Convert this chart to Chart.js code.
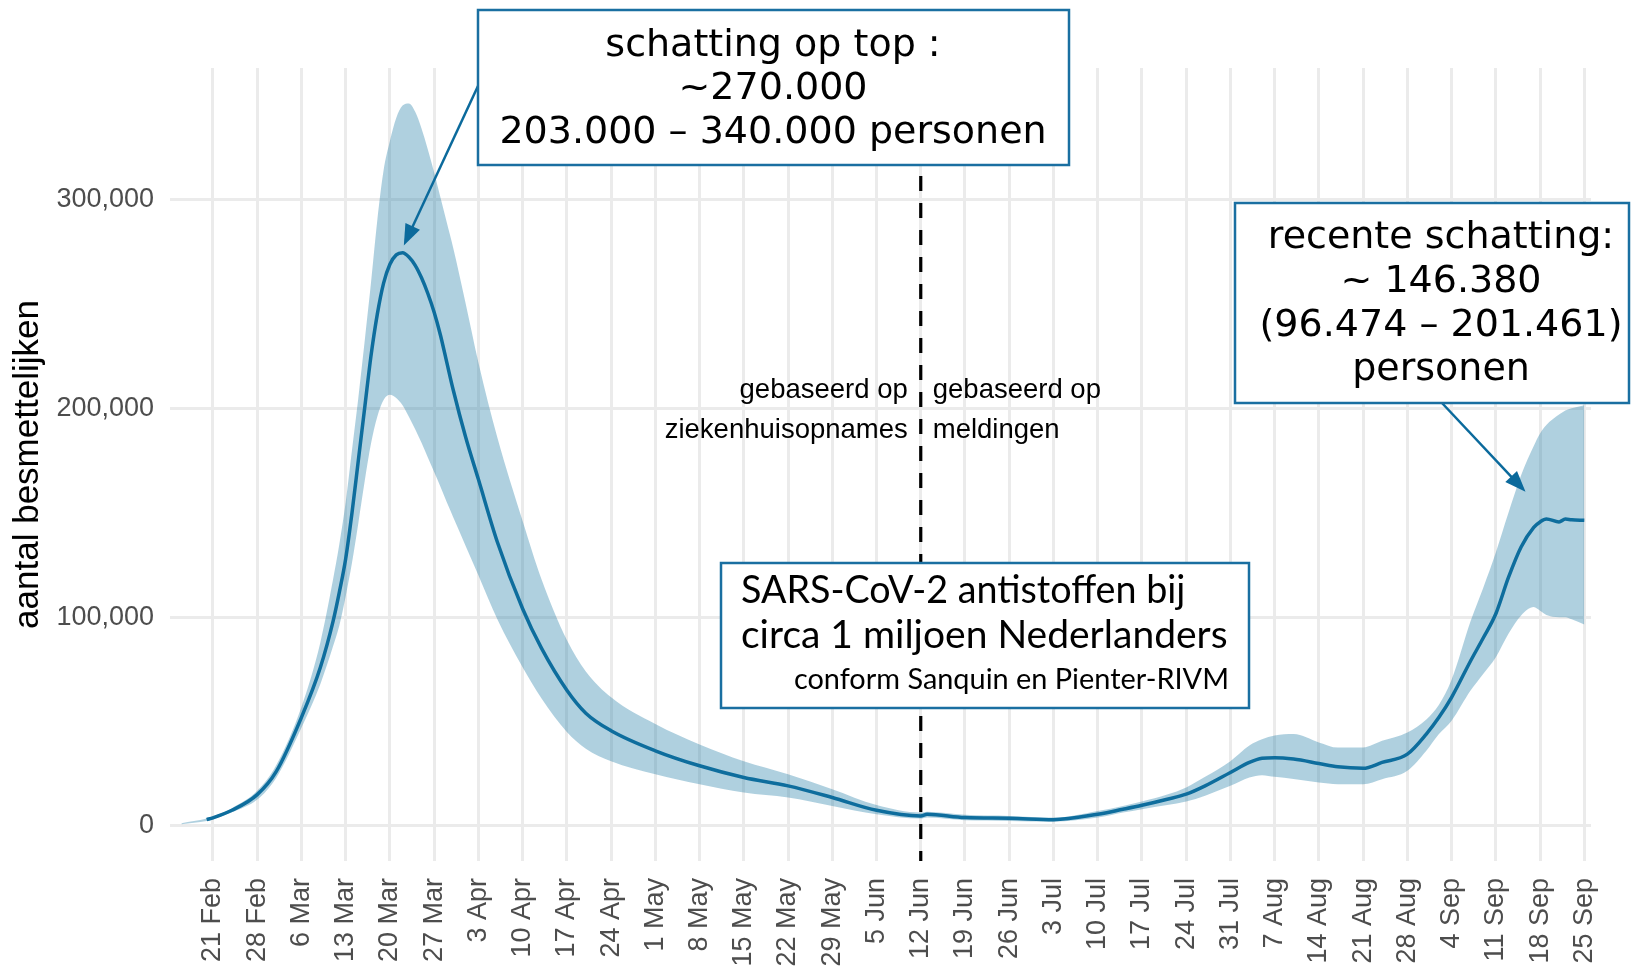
<!DOCTYPE html>
<html>
<head>
<meta charset="utf-8">
<title>Aantal besmettelijken</title>
<script src="https://cdn.jsdelivr.net/npm/chart.js@4.4.1/dist/chart.umd.min.js"></script>
<style>
    html, body { margin: 0; padding: 0; background: #fff; }
    #wrap { width: 1631px; height: 968px; }
</style>
</head>
<body>
<div id="wrap"><canvas id="besmettelijkChart" width="1631" height="968"></canvas></div>
<script>
// dagen gerekend vanaf 21 februari 2020
const dagen = [-5, -3, -1, 0, 3, 7, 10, 14, 17, 19, 20, 21, 22, 23, 24, 25, 26, 27, 28, 29, 30, 31, 32, 33, 34,
    35, 36, 37, 38, 40, 42, 45, 49, 52, 56, 59, 63, 70, 77, 84, 91, 98, 105, 112, 113, 119, 126, 133, 140, 144,
    147, 151, 154, 157, 161, 164, 166, 168, 171, 175, 178, 182, 185, 189, 192, 194, 196, 199, 201, 203, 205,
    207, 209, 210, 211, 213, 214, 215, 217];

const schatting = [null, null, 3000, 3900, 7500, 15000, 26000, 52000, 76000, 98000, 112000, 128000, 150000,
    175000, 200000, 225000, 245000, 260000, 269000, 273500, 274500, 272500, 268500, 262500, 255000,
    246000, 235000, 222000, 209000, 186000, 166000, 136000, 104000, 85000, 65000, 54000, 45600, 36000, 28800,
    23200, 19200, 13600, 7500, 4800, 5600, 4000, 3700, 3000, 5600, 8000, 9900, 12800, 15200, 19200, 25600,
    30400, 32400, 32700, 32000, 29900, 28300, 27600, 30400, 34400, 44000, 52000, 61600, 79000, 90000, 101600,
    119000, 133600, 143000, 145600, 147000, 145600, 147000, 146600, 146400];

const ondergrens = [800, 1500, 2400, 3200, 6500, 12600, 23000, 47000, 68000, 86000, 96000, 110000, 126000,
    145000, 165000, 183000, 196000, 204000, 206500, 205000, 201500, 196000, 190000, 183500, 176500,
    169500, 162500, 155000, 148000, 134000, 120000, 99000, 76000, 61000, 45000, 37000, 31000, 24800, 20000,
    16000, 13600, 9600, 5600, 3500, 4000, 2700, 2400, 2100, 4000, 6400, 8000, 10000, 11700, 14500, 19200,
    23200, 24300, 23500, 22500, 20800, 20000, 20000, 22400, 26400, 36000, 44000, 50400, 64800, 72800, 80800,
    92000, 100800, 104800, 103000, 101000, 100000, 100000, 99000, 96500];

const bovengrens = [1300, 2300, 3600, 4600, 8500, 16800, 29000, 57000, 88000, 118000, 135000, 155000, 180000,
    205000, 232000, 260000, 290000, 314000, 328000, 339000, 345000, 346000, 342000, 334000, 324000,
    313000, 301000, 289000, 277000, 250000, 222000, 186000, 146000, 118000, 89000, 74000, 61600, 48800, 39000,
    31000, 24800, 17600, 10000, 6400, 6800, 5300, 4800, 4000, 7200, 9600, 11700, 15000, 18400, 23500, 31000,
    38500, 41500, 43300, 44000, 40000, 37500, 37600, 40800, 44800, 51000, 58000, 70000, 98000, 114000, 131000,
    150000, 168000, 182000, 188000, 192000, 197000, 199000, 200000, 201500];

const tickDagen = [0, 7, 14, 21, 28, 35, 42, 49, 56, 63, 70, 77, 84, 91, 98, 105, 112, 119, 126, 133, 140,
    147, 154, 161, 168, 175, 182, 189, 196, 203, 210, 217];
const tickLabels = ['21 Feb', '28 Feb', '6 Mar', '13 Mar', '20 Mar', '27 Mar', '3 Apr', '10 Apr', '17 Apr',
    '24 Apr', '1 May', '8 May', '15 May', '22 May', '29 May', '5 Jun', '12 Jun', '19 Jun', '26 Jun', '3 Jul',
    '10 Jul', '17 Jul', '24 Jul', '31 Jul', '7 Aug', '14 Aug', '21 Aug', '28 Aug', '4 Sep', '11 Sep',
    '18 Sep', '25 Sep'];
const yTicks = [0, 100000, 200000, 300000];

const scheidingsDag = 112; // 12 juni: overgang ziekenhuisopnames -> meldingen

const blauw = '#0b6a9c';
const randBlauw = '#1a6fa1';

function punten(reeks) {
    return dagen.map((d, i) => ({ x: d, y: reeks[i] })).filter(p => p.y !== null);
}

function pijl(ctx, x0, y0, x1, y1) {
    const hoek = Math.atan2(y1 - y0, x1 - x0);
    const lengte = 21, half = 8;
    ctx.beginPath();
    ctx.moveTo(x0, y0);
    ctx.lineTo(x1 - Math.cos(hoek) * lengte * 0.8, y1 - Math.sin(hoek) * lengte * 0.8);
    ctx.stroke();
    ctx.beginPath();
    ctx.moveTo(x1, y1);
    ctx.lineTo(x1 - lengte * Math.cos(hoek) + half * Math.sin(hoek), y1 - lengte * Math.sin(hoek) - half * Math.cos(hoek));
    ctx.lineTo(x1 - lengte * Math.cos(hoek) - half * Math.sin(hoek), y1 - lengte * Math.sin(hoek) + half * Math.cos(hoek));
    ctx.closePath();
    ctx.fill();
}

function kader(ctx, x, y, w, h) {
    ctx.fillStyle = '#fff';
    ctx.fillRect(x, y, w, h);
    ctx.strokeStyle = randBlauw;
    ctx.lineWidth = 2.5;
    ctx.strokeRect(x, y, w, h);
}

// font size so that a line of text gets a given width
function pasGrootte(ctx, tekst, familie, breedte) {
    ctx.font = '100px ' + familie;
    return 100 * breedte / ctx.measureText(tekst).width;
}

const annotaties = {
    id: 'annotaties',
    afterDatasetsDraw(chart) {
        const { ctx, chartArea, scales: { x, y } } = chart;
        ctx.save();

        // dashed split line
        const xd = x.getPixelForValue(scheidingsDag);
        ctx.strokeStyle = '#000';
        ctx.lineWidth = 3.2;
        ctx.setLineDash([15, 12]);
        ctx.beginPath();
        ctx.moveTo(xd, chartArea.top);
        ctx.lineTo(xd, chartArea.bottom);
        ctx.stroke();
        ctx.setLineDash([]);

        // labels either side of the split
        ctx.fillStyle = '#000';
        ctx.font = '27.5px "Liberation Sans", Arial, sans-serif';
        ctx.textBaseline = 'middle';
        ctx.textAlign = 'right';
        ctx.fillText('gebaseerd op', xd - 13, 390);
        ctx.fillText('ziekenhuisopnames', xd - 13, 430);
        ctx.textAlign = 'left';
        ctx.fillText('gebaseerd op', xd + 12, 390);
        ctx.fillText('meldingen', xd + 12, 430);

        // arrows
        ctx.strokeStyle = blauw;
        ctx.fillStyle = blauw;
        ctx.lineWidth = 2.5;
        pijl(ctx, 478, 86, x.getPixelForValue(30.2), y.getPixelForValue(278000));
        pijl(ctx, 1442, 403, x.getPixelForValue(207.7), y.getPixelForValue(160000));

        // box: peak estimate
        kader(ctx, 478, 10, 591, 155);
        ctx.fillStyle = '#000';
        ctx.font = '38px "DejaVu Sans", Verdana, sans-serif';
        ctx.textAlign = 'center';
        ctx.fillText('schatting op top :', 773, 46);
        ctx.fillText('~270.000', 773, 89);
        ctx.fillText('203.000 \u2013 340.000 personen', 773, 133);

        // box: recent estimate
        kader(ctx, 1235, 203, 394, 200);
        ctx.fillStyle = '#000';
        ctx.fillText('recente schatting:', 1441, 238);
        ctx.fillText('~ 146.380', 1441, 282);
        ctx.fillText('(96.474 \u2013 201.461)', 1441, 326);
        ctx.fillText('personen', 1441, 370);

        // box: antibodies
        kader(ctx, 721, 563, 528, 145);
        const fam = 'Lato, "Open Sans", sans-serif';
        const r1 = 'SARS-CoV-2 antistoffen bij';
        const r2 = 'circa 1 miljoen Nederlanders';
        const r3 = 'conform Sanquin en Pienter-RIVM';
        ctx.fillStyle = '#000';
        ctx.textAlign = 'left';
        ctx.font = pasGrootte(ctx, r1, fam, 445).toFixed(1) + 'px ' + fam;
        ctx.fillText(r1, 741, 591);
        ctx.font = pasGrootte(ctx, r2, fam, 486).toFixed(1) + 'px ' + fam;
        ctx.fillText(r2, 741, 635);
        ctx.textAlign = 'right';
        ctx.font = pasGrootte(ctx, r3, fam, 435).toFixed(1) + 'px ' + fam;
        ctx.fillText(r3, 1229, 680);

        ctx.restore();
    }
};

const ctx = document.getElementById('besmettelijkChart');

new Chart(ctx, {
    type: 'line',
    data: {
        datasets: [
            {
                label: 'bovengrens',
                data: punten(bovengrens),
                borderWidth: 0,
                pointRadius: 0,
                backgroundColor: 'rgba(21, 118, 161, 0.34)',
                fill: '+1',
                cubicInterpolationMode: 'monotone'
            },
            {
                label: 'ondergrens',
                data: punten(ondergrens),
                borderWidth: 0,
                pointRadius: 0,
                fill: false,
                cubicInterpolationMode: 'monotone'
            },
            {
                label: 'schatting',
                data: punten(schatting),
                borderColor: blauw,
                borderWidth: 3.5,
                pointRadius: 0,
                fill: false,
                cubicInterpolationMode: 'monotone'
            }
        ]
    },
    options: {
        responsive: false,
        animation: false,
        layout: { padding: { top: 68, right: 40, left: 0, bottom: 0 } },
        plugins: {
            legend: { display: false },
            tooltip: { enabled: false }
        },
        scales: {
            x: {
                type: 'linear',
                min: -6.8,
                max: 218.06,
                afterBuildTicks: function(scale) {
                    scale.ticks = tickDagen.map(v => ({ value: v }));
                },
                afterFit: function(scale) {
                    scale.height = 107;
                    scale.paddingLeft = 0;
                    scale.paddingRight = 0;
                },
                ticks: {
                    autoSkip: false,
                    minRotation: 90,
                    maxRotation: 90,
                    padding: 17,
                    color: '#4d4d4d',
                    font: { family: '"Liberation Sans", Arial, sans-serif', size: 27 },
                    callback: function(value, index) { return tickLabels[index]; }
                },
                grid: { color: '#ebebeb', lineWidth: 3, drawTicks: false },
                border: { display: false }
            },
            y: {
                min: -16800,
                max: 363000,
                afterBuildTicks: function(scale) {
                    scale.ticks = yTicks.map(v => ({ value: v }));
                },
                afterFit: function(scale) { scale.width = 170; },
                ticks: {
                    padding: 16,
                    color: '#4d4d4d',
                    font: { family: '"Liberation Sans", Arial, sans-serif', size: 27 },
                    callback: function(value) { return value.toLocaleString('en-US'); }
                },
                title: {
                    display: true,
                    text: 'aantal besmettelijken',
                    color: '#000',
                    font: { family: '"Liberation Sans", Arial, sans-serif', size: 35 },
                    padding: { top: 7, bottom: 0 }
                },
                grid: { color: '#ebebeb', lineWidth: 3, drawTicks: false },
                border: { display: false }
            }
        }
    },
    plugins: [annotaties]
});
</script>
</body>
</html>
